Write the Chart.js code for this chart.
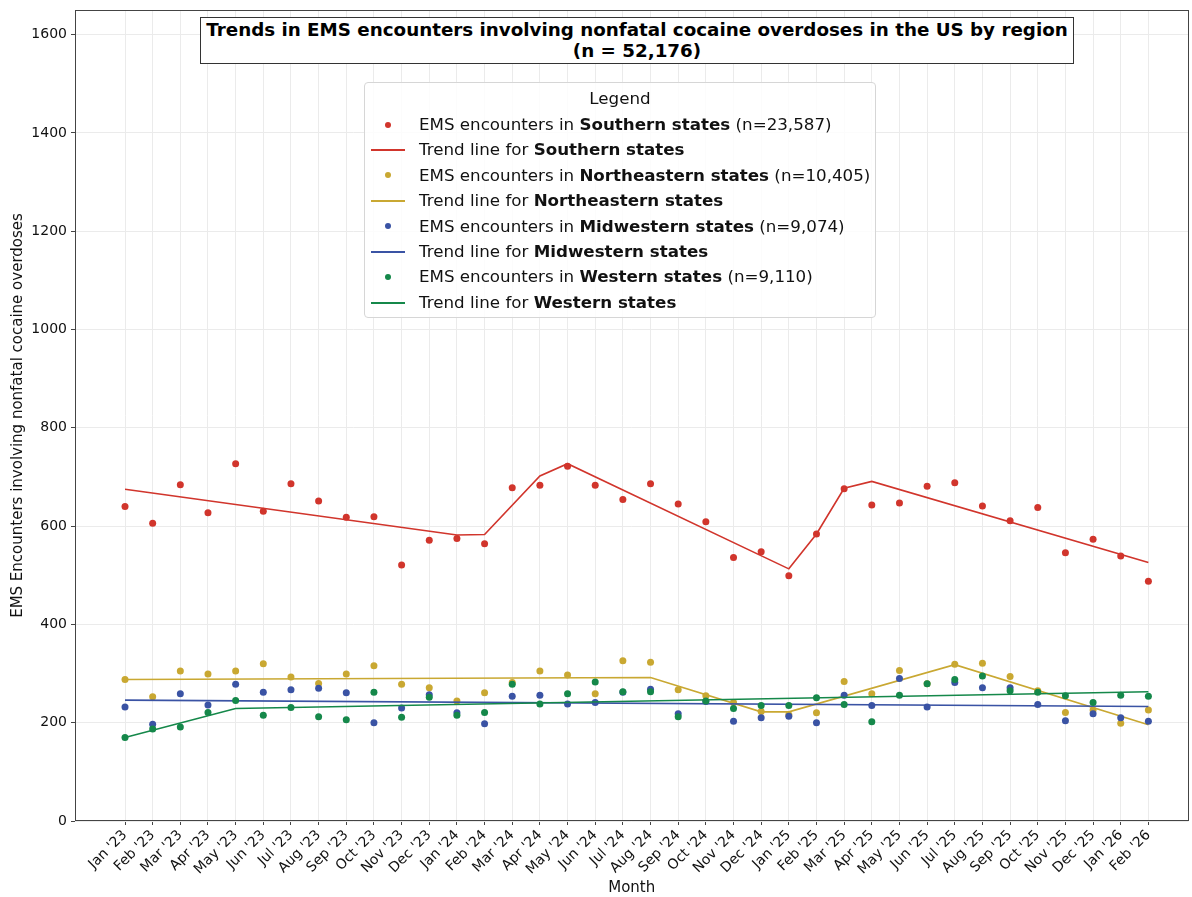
<!DOCTYPE html>
<html>
<head>
<meta charset="utf-8">
<script src="https://cdn.jsdelivr.net/npm/chart.js@4.4.1/dist/chart.umd.min.js"></script>
<style>
  body { margin: 0; background: #fff; font-family: "DejaVu Sans", sans-serif; }
  #wrap { position: relative; width: 1192px; height: 897px; }
  #title {
    position: absolute; left: 200px; top: 17px; width: 872px; height: 44px;
    border: 1px solid #333; background: #fff; text-align: center;
    font-weight: bold; font-size: 18.3px; line-height: 21px; color: #000; padding-top: 1px;
  }
  #legend {
    position: absolute; left: 364px; top: 82px; width: 510px; height: 234px;
    border: 1px solid #d6d6d6; border-radius: 4px; background: rgba(255,255,255,0.85);
    font-size: 16.7px; color: #111;
  }
  #legend .head { text-align: center; margin-top: 4px; height: 25px; line-height: 23px; }
  #legend .row { height: 25.4px; line-height: 25.4px; display: flex; align-items: center; white-space: nowrap; }
  #legend .mk { width: 54px; position: relative; height: 100%; }
  #legend .dot { position: absolute; left: 20px; top: 50%; width: 6px; height: 6px; margin-top: -3px; border-radius: 50%; }
  #legend .ln { position: absolute; left: 6px; top: 12px; width: 34px; height: 2px; }
</style>
</head>
<body>
<div id="wrap">
  <canvas id="chart" width="1192" height="897"></canvas>
  <div id="title">Trends in EMS encounters involving nonfatal cocaine overdoses in the US by region<br>(n = 52,176)</div>
  <div id="legend"></div>
</div>
<script>
const months = ["Jan '23","Feb '23","Mar '23","Apr '23","May '23","Jun '23","Jul '23","Aug '23","Sep '23","Oct '23","Nov '23","Dec '23",
  "Jan '24","Feb '24","Mar '24","Apr '24","May '24","Jun '24","Jul '24","Aug '24","Sep '24","Oct '24","Nov '24","Dec '24",
  "Jan '25","Feb '25","Mar '25","Apr '25","May '25","Jun '25","Jul '25","Aug '25","Sep '25","Oct '25","Nov '25","Dec '25",
  "Jan '26","Feb '26"];

const southern = [640,606,684,627,727,630,686,651,618,619,521,571,575,564,678,683,722,683,654,686,645,609,536,548,
  499,584,676,643,647,681,688,641,611,638,546,573,539,488];
const northeastern = [288,253,305,299,305,320,293,280,299,316,278,271,244,261,282,305,297,259,326,323,267,255,241,223,
  216,220,284,259,306,279,319,321,294,265,221,226,199,226];
const midwestern = [232,197,259,236,278,262,267,270,261,200,230,257,220,198,254,256,238,241,262,268,218,243,203,210,
  213,200,256,235,290,232,282,271,271,237,204,218,210,203];
const western = [170,187,191,221,245,215,231,212,206,262,211,252,215,221,278,238,259,283,263,263,212,244,229,235,
  235,251,237,202,256,279,288,295,265,262,255,241,256,254];

// trend line breakpoints (null = straight segment between breakpoints)
const _ = null;
const southernTrend = [675,_,_,_,_,_,_,_,_,_,_,_,582,583,_,702,727,_,_,_,_,_,_,_,513,584,677,691,_,_,_,_,_,_,_,_,_,526];
const northeasternTrend = [288,_,_,_,_,_,_,_,_,_,_,_,_,_,_,_,_,_,_,292,_,_,_,222,222,_,_,_,_,_,318,_,_,_,_,_,_,196];
const midwesternTrend = [246,_,_,_,_,_,_,_,_,_,_,_,_,_,_,_,_,_,_,_,_,_,_,_,_,_,_,_,_,_,_,_,_,_,_,_,_,233];
const westernTrend = [170,_,_,_,229,_,_,_,_,_,_,_,_,_,_,_,_,_,_,_,_,_,_,_,_,_,_,_,_,_,_,_,_,_,_,_,_,263];

const regions = ["Southern", "Northeastern", "Midwestern", "Western"];
const counts = ["23,587", "10,405", "9,074", "9,110"];
const colors = ["#d1352c", "#c9a832", "#3a53a4", "#15884a"];
const points = [southern, northeastern, midwestern, western];
const trends = [southernTrend, northeasternTrend, midwesternTrend, westernTrend];

const datasets = [];
regions.forEach((r, i) => {
  datasets.push({
    label: `EMS encounters in ${r} states (n=${counts[i]})`,
    data: points[i],
    showLine: false,
    pointRadius: 3.5,
    pointHoverRadius: 3.5,
    pointBorderWidth: 0,
    pointBackgroundColor: colors[i],
    borderColor: colors[i],
    backgroundColor: colors[i]
  });
  datasets.push({
    label: `Trend line for ${r} states`,
    data: trends[i],
    spanGaps: true,
    borderColor: colors[i],
    borderWidth: 1.6,
    pointRadius: 0,
    tension: 0
  });
});
// later datasets on top, like the original plotting order
datasets.forEach((d, i) => { d.order = datasets.length - i; });

const frame = {
  id: "frame",
  afterDraw(chart) {
    const a = chart.chartArea, ctx = chart.ctx;
    ctx.save();
    ctx.strokeStyle = "#444";
    ctx.lineWidth = 1;
    ctx.strokeRect(Math.round(a.left) + 0.5, Math.round(a.top) + 0.5,
      Math.round(a.right - a.left) - 1, Math.round(a.bottom - a.top) - 1);
    ctx.restore();
  }
};

const chart = new Chart(document.getElementById("chart"), {
  type: "line",
  data: { labels: months.map((m, i) => i), datasets: datasets },
  options: {
    responsive: false,
    animation: false,
    layout: { padding: { top: 10, right: 0, left: 0, bottom: 0 } },
    plugins: { legend: { display: false }, title: { display: false }, tooltip: { enabled: false } },
    scales: {
      x: {
        type: "linear",
        min: -1.808,
        max: 38.45,
        afterFit(s) {
          s.height = 76; s.paddingLeft = 0; s.paddingRight = 0;
        },
        afterBuildTicks(s) { s.ticks = months.map((m, i) => ({ value: i })); },
        grid: { color: "#ebebeb", borderDash: [4, 3], tickColor: "#444", tickLength: 4, tickBorderDash: [] },
        border: { display: false },
        ticks: {
          autoSkip: false, minRotation: 45, maxRotation: 45, padding: 2,
          color: "#111", font: { family: "DejaVu Sans", size: 14 },
          callback: (v) => months[v]
        },
        title: { display: true, text: "Month", color: "#111", font: { family: "DejaVu Sans", size: 15 }, padding: { top: 0, bottom: 0 } }
      },
      y: {
        min: 0,
        max: 1650,
        afterFit(s) { s.width = 75; s.paddingTop = 0; s.paddingBottom = 0; },
        grid: { color: "#ebebeb", borderDash: [4, 3], tickColor: "#444", tickLength: 4, tickBorderDash: [] },
        border: { display: false },
        ticks: {
          stepSize: 200, includeBounds: false, padding: 4,
          color: "#111", font: { family: "DejaVu Sans", size: 14 },
          callback: (v) => String(v)
        },
        title: { display: true, text: "EMS Encounters involving nonfatal cocaine overdoses", color: "#111",
          font: { family: "DejaVu Sans", size: 15 }, padding: { top: 9, bottom: 0 } }
      }
    }
  },
  plugins: [frame]
});

// html legend with bold region names
const legend = document.getElementById("legend");
let html = '<div class="head">Legend</div>';
regions.forEach((r, i) => {
  html += `<div class="row"><span class="mk"><span class="dot" style="background:${colors[i]}"></span></span>` +
    `<span>EMS encounters in <b>${r} states</b> (n=${counts[i]})</span></div>`;
  html += `<div class="row"><span class="mk"><span class="ln" style="background:${colors[i]}"></span></span>` +
    `<span>Trend line for <b>${r} states</b></span></div>`;
});
legend.innerHTML = html;
</script>
</body>
</html>
